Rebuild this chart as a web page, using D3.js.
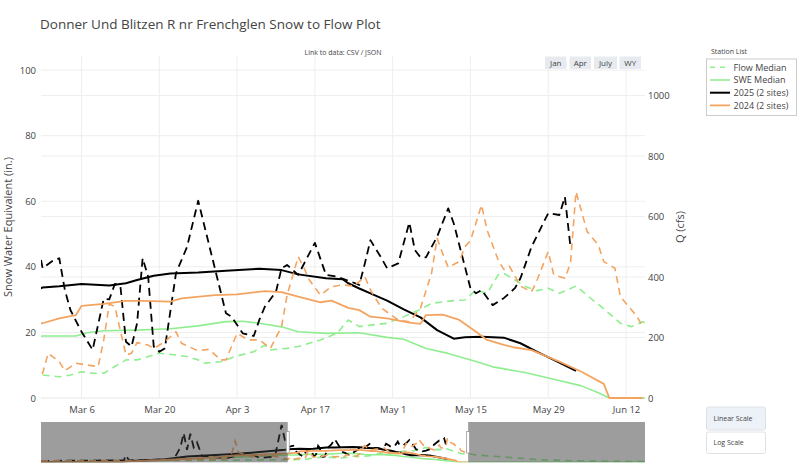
<!DOCTYPE html>
<meta charset="utf-8">
<html>

<head>
    <script src="https://d3js.org/d3.v7.min.js"></script>
    <style>
        body { margin: 0; background: #fff; }
        svg { font-family: "Open Sans", verdana, arial, sans-serif; }
    </style>
</head>

<body>
    <div id="chart"></div>

    <script>
        // values, [date, value]; 2024 is drawn on the 2025 calendar
        const flowMedian = [
            ["2024-10-01", 45], ["2024-12-01", 48], ["2025-01-01", 52], ["2025-02-01", 60],
            ["2025-02-27", 76], ["2025-03-02", 70], ["2025-03-04", 76], ["2025-03-06", 87], ["2025-03-08", 82],
            ["2025-03-10", 82], ["2025-03-12", 104], ["2025-03-14", 126], ["2025-03-16", 126], ["2025-03-18", 137],
            ["2025-03-20", 148], ["2025-03-23", 142], ["2025-03-25", 137], ["2025-03-27", 126], ["2025-03-28", 115],
            ["2025-03-31", 120], ["2025-04-03", 139], ["2025-04-06", 153], ["2025-04-08", 175], ["2025-04-09", 159],
            ["2025-04-12", 164], ["2025-04-14", 170], ["2025-04-16", 181], ["2025-04-18", 192], ["2025-04-21", 214],
            ["2025-04-23", 258], ["2025-04-25", 236], ["2025-04-27", 241], ["2025-04-30", 247], ["2025-05-03", 269],
            ["2025-05-06", 293], ["2025-05-08", 313], ["2025-05-12", 322], ["2025-05-14", 324], ["2025-05-16", 357],
            ["2025-05-18", 346], ["2025-05-20", 407], ["2025-05-21", 412], ["2025-05-23", 390], ["2025-05-25", 368],
            ["2025-05-27", 355], ["2025-05-29", 363], ["2025-05-31", 346], ["2025-06-03", 370], ["2025-06-06", 324],
            ["2025-06-08", 295], ["2025-06-11", 247], ["2025-06-13", 236], ["2025-06-15", 252],
            ["2025-06-20", 205], ["2025-07-01", 170], ["2025-07-28", 73], ["2025-08-20", 40], ["2025-09-30", 20]
        ];

        const sweMedian = [
            ["2024-10-01", 0], ["2024-11-10", 1], ["2024-12-01", 4], ["2025-01-01", 9], ["2025-02-01", 14],
            ["2025-02-27", 18.9], ["2025-03-05", 18.9], ["2025-03-07", 19.9], ["2025-03-10", 20.5], ["2025-03-16", 20.7],
            ["2025-03-22", 21.1], ["2025-03-27", 22.0], ["2025-04-01", 23.3], ["2025-04-04", 23.4], ["2025-04-07", 22.8],
            ["2025-04-11", 21.7], ["2025-04-14", 20.2], ["2025-04-19", 19.7], ["2025-04-25", 19.9], ["2025-04-30", 18.5],
            ["2025-05-03", 17.9], ["2025-05-07", 15.1], ["2025-05-11", 13.6], ["2025-05-16", 11.1], ["2025-05-19", 9.5],
            ["2025-05-23", 8.3], ["2025-05-25", 7.7], ["2025-05-30", 5.7], ["2025-06-04", 3.7], ["2025-06-07", 1.6],
            ["2025-06-09", 0], ["2025-06-15", 0], ["2025-09-30", 0]
        ];

        const flow2025 = [
            ["2024-10-01", 40], ["2024-11-20", 55], ["2024-11-21", 200], ["2024-11-23", 60], ["2024-12-20", 80],
            ["2024-12-24", 420], ["2024-12-26", 820], ["2024-12-28", 350], ["2024-12-30", 800], ["2025-01-01", 420],
            ["2025-01-03", 560], ["2025-01-06", 180], ["2025-01-20", 110], ["2025-02-03", 260], ["2025-02-10", 120],
            ["2025-02-19", 160], ["2025-02-23", 1050], ["2025-02-25", 620],
            ["2025-02-27", 429], ["2025-03-01", 456], ["2025-03-02", 462], ["2025-03-03", 357], ["2025-03-04", 291],
            ["2025-03-06", 219], ["2025-03-08", 159], ["2025-03-10", 328], ["2025-03-11", 326], ["2025-03-12", 377],
            ["2025-03-13", 370], ["2025-03-14", 186], ["2025-03-15", 170], ["2025-03-16", 247], ["2025-03-17", 462],
            ["2025-03-18", 401], ["2025-03-19", 170], ["2025-03-20", 153], ["2025-03-21", 164], ["2025-03-23", 412],
            ["2025-03-25", 500], ["2025-03-27", 652], ["2025-04-01", 280], ["2025-04-02", 269], ["2025-04-04", 214],
            ["2025-04-06", 205], ["2025-04-07", 258], ["2025-04-08", 302], ["2025-04-10", 351], ["2025-04-11", 429],
            ["2025-04-12", 440], ["2025-04-14", 407], ["2025-04-17", 513], ["2025-04-19", 407], ["2025-04-21", 401],
            ["2025-04-23", 388], ["2025-04-25", 374], ["2025-04-26", 445], ["2025-04-27", 522], ["2025-04-29", 462],
            ["2025-04-30", 429], ["2025-05-02", 445], ["2025-05-04", 580], ["2025-05-05", 489], ["2025-05-06", 465],
            ["2025-05-07", 465], ["2025-05-09", 533], ["2025-05-11", 627], ["2025-05-12", 577], ["2025-05-15", 363],
            ["2025-05-16", 346], ["2025-05-17", 357], ["2025-05-19", 307], ["2025-05-21", 330], ["2025-05-23", 363],
            ["2025-05-24", 396], ["2025-05-26", 500], ["2025-05-29", 611], ["2025-05-31", 605], ["2025-06-01", 665],
            ["2025-06-02", 500]
        ];

        const swe2025 = [
            ["2024-10-01", 0], ["2024-11-18", 0], ["2024-11-22", 3], ["2024-12-15", 8], ["2024-12-28", 15],
            ["2025-01-20", 20], ["2025-02-05", 25], ["2025-02-25", 32.5],
            ["2025-02-27", 33.7], ["2025-03-02", 34.1], ["2025-03-06", 34.8], ["2025-03-11", 34.3], ["2025-03-14", 35.0],
            ["2025-03-16", 36.0], ["2025-03-19", 37.3], ["2025-03-22", 38.0], ["2025-03-27", 38.3], ["2025-04-01", 38.8],
            ["2025-04-07", 39.4], ["2025-04-11", 39.0], ["2025-04-14", 37.7], ["2025-04-19", 36.5], ["2025-04-22", 36.2],
            ["2025-04-23", 35.0], ["2025-04-25", 33.4], ["2025-04-27", 31.9], ["2025-04-30", 29.7], ["2025-05-03", 27.0],
            ["2025-05-06", 24.6], ["2025-05-09", 20.7], ["2025-05-12", 18.1], ["2025-05-14", 18.5], ["2025-05-17", 18.7],
            ["2025-05-21", 18.4], ["2025-05-24", 16.7], ["2025-05-27", 14.1], ["2025-05-30", 11.6], ["2025-06-03", 8.3]
        ];

        const flow2024 = [
            ["2024-10-01", 40], ["2024-12-01", 50], ["2025-01-20", 90], ["2025-01-24", 250], ["2025-01-26", 600],
            ["2025-01-28", 280], ["2025-02-05", 150], ["2025-02-15", 210], ["2025-02-22", 130],
            ["2025-02-27", 82], ["2025-02-28", 148], ["2025-03-02", 120], ["2025-03-03", 90], ["2025-03-05", 115],
            ["2025-03-07", 109], ["2025-03-09", 104], ["2025-03-10", 192], ["2025-03-11", 311], ["2025-03-12", 302],
            ["2025-03-14", 142], ["2025-03-15", 148], ["2025-03-16", 183], ["2025-03-18", 175], ["2025-03-19", 164],
            ["2025-03-21", 186], ["2025-03-23", 219], ["2025-03-24", 181], ["2025-03-26", 164], ["2025-03-27", 156],
            ["2025-03-29", 161], ["2025-03-31", 126], ["2025-04-01", 126], ["2025-04-03", 214], ["2025-04-05", 192],
            ["2025-04-07", 192], ["2025-04-09", 164], ["2025-04-11", 236], ["2025-04-12", 340], ["2025-04-14", 467],
            ["2025-04-15", 432], ["2025-04-16", 390], ["2025-04-18", 340], ["2025-04-20", 368], ["2025-04-22", 374],
            ["2025-04-24", 370], ["2025-04-26", 401], ["2025-04-27", 357], ["2025-04-29", 297], ["2025-05-02", 258],
            ["2025-05-04", 252], ["2025-05-06", 297], ["2025-05-08", 412], ["2025-05-09", 528], ["2025-05-10", 478],
            ["2025-05-11", 432], ["2025-05-13", 451], ["2025-05-14", 500], ["2025-05-15", 520], ["2025-05-17", 638],
            ["2025-05-18", 555], ["2025-05-20", 456], ["2025-05-21", 425], ["2025-05-22", 436], ["2025-05-24", 370],
            ["2025-05-26", 351], ["2025-05-27", 390], ["2025-05-29", 484], ["2025-05-30", 407], ["2025-06-01", 396],
            ["2025-06-02", 445], ["2025-06-03", 682], ["2025-06-05", 550], ["2025-06-07", 506], ["2025-06-08", 451],
            ["2025-06-10", 429], ["2025-06-11", 335], ["2025-06-14", 269], ["2025-06-15", 236]
        ];

        const swe2024 = [
            ["2024-10-01", 0], ["2024-11-20", 2], ["2024-12-15", 6], ["2025-01-10", 12], ["2025-01-25", 17],
            ["2025-02-10", 20],
            ["2025-02-27", 22.8], ["2025-03-02", 24.3], ["2025-03-05", 25.3], ["2025-03-06", 28.1], ["2025-03-10", 28.7],
            ["2025-03-14", 29.6], ["2025-03-17", 29.6], ["2025-03-22", 29.4], ["2025-03-24", 30.4], ["2025-03-30", 31.4],
            ["2025-04-03", 31.6], ["2025-04-08", 32.6], ["2025-04-11", 32.3], ["2025-04-14", 30.9], ["2025-04-18", 29.2],
            ["2025-04-20", 29.7], ["2025-04-23", 27.5], ["2025-04-25", 26.8], ["2025-04-27", 24.8], ["2025-04-30", 24.3],
            ["2025-05-04", 23.0], ["2025-05-06", 22.6], ["2025-05-07", 25.3], ["2025-05-10", 25.4], ["2025-05-13", 23.8],
            ["2025-05-16", 20.2], ["2025-05-18", 17.7], ["2025-05-21", 16.2], ["2025-05-23", 15.4], ["2025-05-26", 14.6],
            ["2025-05-31", 11.1], ["2025-06-04", 8.0], ["2025-06-08", 4.3], ["2025-06-09", 0], ["2025-06-15", 0]
        ];

        const xTicks = ["2025-03-06", "2025-03-20", "2025-04-03", "2025-04-17", "2025-05-01", "2025-05-15", "2025-05-29", "2025-06-12"];
        const sweTicks = [0, 20, 40, 60, 80, 100];
        const flowTicks = [0, 200, 400, 600, 800, 1000];
        const legendNames = ["Flow Median", "SWE Median", "2025 (2 sites)", "2024 (2 sites)"];
        const periodButtons = ["Jan", "Apr", "July", "WY"];
        const scaleButtons = ["Linear Scale", "Log Scale"];

        const parse = d3.timeParse("%Y-%m-%d");
        const toPoints = arr => arr.map(d => ({ date: parse(d[0]), value: d[1] }));

        const W = 800, H = 466;
        const plot = { left: 41, right: 645, top: 56, bottom: 398 };
        const slider = { top: 422, bottom: 462.3 };

        const svg = d3.select("#chart").append("svg")
            .attr("width", W).attr("height", H);

        // scales (main view is the window Feb 27 - Jun 15 of the water year)
        const x = d3.scaleTime()
            .domain([new Date(2025, 1, 26, 17), new Date(2025, 5, 15, 10)])
            .range([plot.left, plot.right]);
        const ySwe = d3.scaleLinear().domain([0, 104.3]).range([plot.bottom, plot.top]);
        const yFlow = d3.scaleLinear().domain([0, 1130.6]).range([plot.bottom, plot.top]);

        const xs = d3.scaleTime()
            .domain([new Date(2024, 9, 1), new Date(2025, 8, 30)])
            .range([plot.left, plot.right]);
        const ysSwe = d3.scaleLinear().domain([0, 104.3]).range([slider.bottom, slider.top]);
        const ysFlow = d3.scaleLinear().domain([0, 1130.6]).range([slider.bottom, slider.top]);

        const series = [
            { data: flowMedian, axis: "flow", color: "#90ee90", width: 1.6, dash: "7,5" },
            { data: sweMedian, axis: "swe", color: "#90ee90", width: 1.6, dash: null },
            { data: flow2025, axis: "flow", color: "#000", width: 1.8, dash: "8,5" },
            { data: swe2025, axis: "swe", color: "#000", width: 2, dash: null },
            { data: flow2024, axis: "flow", color: "#f4a460", width: 1.6, dash: "7,5" },
            { data: swe2024, axis: "swe", color: "#f4a460", width: 1.8, dash: null }
        ];

        // title and small link text
        svg.append("text")
            .attr("x", 40).attr("y", 29)
            .style("font-size", "13.5px").style("fill", "#444")
            .text("Donner Und Blitzen R nr Frenchglen Snow to Flow Plot");

        svg.append("text")
            .attr("x", 343).attr("y", 54.5)
            .attr("text-anchor", "middle")
            .style("font-size", "7px").style("fill", "#444")
            .text("Link to data: CSV / JSON");

        // grid
        const grid = svg.append("g").attr("stroke", "#eee").attr("stroke-width", 1);
        grid.selectAll(".vx").data(xTicks).join("line")
            .attr("x1", d => x(parse(d))).attr("x2", d => x(parse(d)))
            .attr("y1", plot.top).attr("y2", plot.bottom);
        grid.selectAll(".hs").data(sweTicks).join("line")
            .attr("x1", plot.left).attr("x2", plot.right)
            .attr("y1", d => ySwe(d)).attr("y2", d => ySwe(d));
        grid.selectAll(".hf").data(flowTicks).join("line")
            .attr("x1", plot.left).attr("x2", plot.right)
            .attr("y1", d => yFlow(d)).attr("y2", d => yFlow(d));

        // axes
        const xAxis = svg.append("g")
            .attr("transform", `translate(0,${plot.bottom})`)
            .call(d3.axisBottom(x).tickValues(xTicks.map(parse)).tickFormat(d3.timeFormat("%b %e")).tickSize(0).tickPadding(8));
        const yAxisL = svg.append("g")
            .attr("transform", `translate(${plot.left},0)`)
            .call(d3.axisLeft(ySwe).tickValues(sweTicks).tickSize(0).tickPadding(5));
        const yAxisR = svg.append("g")
            .attr("transform", `translate(${plot.right},0)`)
            .call(d3.axisRight(yFlow).tickValues(flowTicks).tickFormat(d3.format("d")).tickSize(0).tickPadding(3));
        [xAxis, yAxisL, yAxisR].forEach(a => {
            a.select(".domain").remove();
            a.selectAll("text").style("font-family", "'Open Sans', sans-serif").style("font-size", "9.5px").style("fill", "#444");
        });

        svg.append("text")
            .attr("transform", `translate(12,${(plot.top + plot.bottom) / 2}) rotate(-90)`)
            .attr("text-anchor", "middle")
            .style("font-size", "11px").style("fill", "#444")
            .text("Snow Water Equivalent (in.)");
        svg.append("text")
            .attr("transform", `translate(684,${(plot.top + plot.bottom) / 2}) rotate(-90)`)
            .attr("text-anchor", "middle")
            .style("font-size", "11px").style("fill", "#444")
            .text("Q (cfs)");

        // clip regions
        const defs = svg.append("defs");
        defs.append("clipPath").attr("id", "clipMain").append("rect")
            .attr("x", plot.left).attr("y", plot.top - 2)
            .attr("width", plot.right - plot.left).attr("height", plot.bottom - plot.top + 4);
        defs.append("clipPath").attr("id", "clipSlider").append("rect")
            .attr("x", plot.left).attr("y", slider.top)
            .attr("width", plot.right - plot.left).attr("height", slider.bottom - slider.top);

        // main lines
        const main = svg.append("g").attr("clip-path", "url(#clipMain)");
        series.forEach(s => {
            const yy = s.axis === "swe" ? ySwe : yFlow;
            main.append("path")
                .datum(toPoints(s.data))
                .attr("fill", "none")
                .attr("stroke", s.color)
                .attr("stroke-width", s.width)
                .attr("stroke-dasharray", s.dash)
                .attr("stroke-linejoin", "round")
                .attr("d", d3.line().x(d => x(d.date)).y(d => yy(d.value)));
        });

        // range slider
        const rs = svg.append("g");
        rs.append("rect")
            .attr("x", plot.left).attr("y", slider.top)
            .attr("width", plot.right - plot.left).attr("height", slider.bottom - slider.top)
            .attr("fill", "#fff");
        const rsLines = rs.append("g").attr("clip-path", "url(#clipSlider)");
        series.forEach(s => {
            const yy = s.axis === "swe" ? ysSwe : ysFlow;
            rsLines.append("path")
                .datum(toPoints(s.data))
                .attr("fill", "none")
                .attr("stroke", s.color)
                .attr("stroke-width", s.width)
                .attr("stroke-dasharray", s.dash)
                .attr("d", d3.line().x(d => xs(d.date)).y(d => yy(d.value)));
        });
        const [w0, w1] = x.domain().map(xs);
        rs.append("rect")
            .attr("x", plot.left).attr("y", slider.top)
            .attr("width", w0 - plot.left).attr("height", slider.bottom - slider.top)
            .attr("fill", "#3c3c3c").attr("fill-opacity", 0.5);
        rs.append("rect")
            .attr("x", w1).attr("y", slider.top)
            .attr("width", plot.right - w1).attr("height", slider.bottom - slider.top)
            .attr("fill", "#3c3c3c").attr("fill-opacity", 0.5);
        [w0, w1].forEach(wx => {
            rs.append("rect")
                .attr("x", wx - 1.5).attr("y", 431.5)
                .attr("width", 3).attr("height", 21.5)
                .attr("fill", "#fff").attr("stroke", "#999").attr("stroke-width", 0.8);
        });

        // period buttons
        const pb = svg.append("g").selectAll("g").data(periodButtons).join("g")
            .attr("transform", (d, i) => `translate(${[545, 569.5, 594, 619.5][i]},56.5)`);
        pb.append("rect")
            .attr("width", (d, i) => [21.5, 21.5, 23, 21.5][i]).attr("height", 12.5)
            .attr("fill", "#e7ebf0");
        pb.append("text")
            .attr("x", (d, i) => [21.5, 21.5, 23, 21.5][i] / 2).attr("y", 9.3)
            .attr("text-anchor", "middle")
            .style("font-size", "8px").style("fill", "#444")
            .text(d => d);

        // legend
        svg.append("text")
            .attr("x", 711).attr("y", 54)
            .style("font-size", "7px").style("fill", "#444")
            .text("Station List");
        svg.append("rect")
            .attr("x", 706.5).attr("y", 59).attr("width", 90).attr("height", 56.5)
            .attr("fill", "#fff").attr("stroke", "#ccc").attr("stroke-width", 1);
        const legendStyle = [series[0], series[1], series[3], series[5]];
        const lg = svg.append("g").selectAll("g").data(legendNames).join("g")
            .attr("transform", (d, i) => `translate(710,${67.3 + i * 12.7})`);
        lg.append("line")
            .attr("x1", 0).attr("x2", 20)
            .attr("stroke", (d, i) => legendStyle[i].color)
            .attr("stroke-width", (d, i) => legendStyle[i].width)
            .attr("stroke-dasharray", (d, i) => legendStyle[i].dash ? "5,5" : null);
        lg.append("text")
            .attr("x", 23.5).attr("y", 3.3)
            .style("font-size", "9px").style("fill", "#444")
            .text(d => d);

        // scale buttons
        const sb = svg.append("g").selectAll("g").data(scaleButtons).join("g")
            .attr("transform", (d, i) => `translate(706.5,${[407, 432][i]})`);
        sb.append("rect")
            .attr("width", 59).attr("height", (d, i) => [23, 21.5][i])
            .attr("rx", 2)
            .attr("fill", (d, i) => i === 0 ? "#edf2f8" : "#fff")
            .attr("stroke", "#dde1e6");
        sb.append("text")
            .attr("x", 7).attr("y", (d, i) => [14.2, 13.4][i])
            .style("font-size", "7px").style("fill", "#444")
            .text(d => d);
    </script>
</body>

</html>
